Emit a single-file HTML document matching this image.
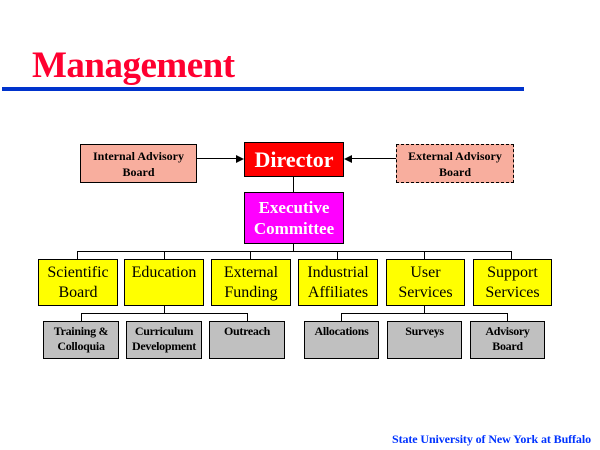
<!DOCTYPE html>
<html><head><style>
body{margin:0;width:600px;height:450px;background:#fff;position:relative;overflow:hidden;font-family:"Liberation Serif",serif}
.b{position:absolute;box-sizing:border-box;border:1px solid #000;text-align:center;font-weight:normal;color:#000;display:flex;align-items:center;justify-content:center;line-height:1.15}
.l{position:absolute;background:#000}
.y{background:#ffff00;font-size:16px;align-items:flex-start;padding-top:3px;line-height:20px}
.g{background:#c0c0c0;font-size:12px;font-weight:bold;align-items:flex-start;padding-top:2px;line-height:15px;letter-spacing:-0.3px}
</style></head><body>
<div style="position:absolute;left:32px;top:44px;font-size:37px;font-weight:bold;color:#ff0030;letter-spacing:-0.5px">Management</div>
<div style="position:absolute;left:2px;top:87px;width:522px;height:4px;background:#0033cc"></div>

<div class="b" style="left:80px;top:144px;width:117px;height:39px;background:#f8ae9e;font-size:12px;line-height:16px;font-weight:bold">Internal Advisory<br>Board</div>
<div class="b" style="left:396px;top:144px;width:118px;height:39px;background:#f8ae9e;font-size:12px;line-height:16px;font-weight:bold;border:1px dashed #000">External Advisory<br>Board</div>
<div class="l" style="left:197px;top:158px;width:40px;height:1px"></div>
<div style="position:absolute;left:236px;top:155px;border-left:8px solid #000;border-top:4px solid transparent;border-bottom:4px solid transparent"></div>
<div class="l" style="left:352px;top:158px;width:44px;height:1px"></div>
<div style="position:absolute;left:344px;top:155px;border-right:8px solid #000;border-top:4px solid transparent;border-bottom:4px solid transparent"></div>

<div class="b" style="left:244px;top:142px;width:100px;height:35px;background:#ff0000;color:#fff;font-size:22px;font-weight:bold">Director</div>
<div class="l" style="left:293px;top:177px;width:1px;height:15px"></div>
<div class="b" style="left:244px;top:192px;width:100px;height:52px;background:#ff00ff;color:#fff;font-size:17px;line-height:21px;font-weight:bold">Executive<br>Committee</div>
<div class="l" style="left:293px;top:244px;width:1px;height:7px"></div>
<div class="l" style="left:77px;top:251px;width:435px;height:1px"></div>
<div class="l" style="left:77px;top:251px;width:1px;height:8px"></div>
<div class="l" style="left:164px;top:251px;width:1px;height:8px"></div>
<div class="l" style="left:250px;top:251px;width:1px;height:8px"></div>
<div class="l" style="left:337px;top:251px;width:1px;height:8px"></div>
<div class="l" style="left:424px;top:251px;width:1px;height:8px"></div>
<div class="l" style="left:511px;top:251px;width:1px;height:8px"></div>

<div class="b y" style="left:38px;top:259px;width:80px;height:47px">Scientific<br>Board</div>
<div class="b y" style="left:124px;top:259px;width:80px;height:47px">Education</div>
<div class="b y" style="left:211px;top:259px;width:80px;height:47px">External<br>Funding</div>
<div class="b y" style="left:298px;top:259px;width:80px;height:47px">Industrial<br>Affiliates</div>
<div class="b y" style="left:386px;top:259px;width:79px;height:47px">User<br>Services</div>
<div class="b y" style="left:473px;top:259px;width:79px;height:47px">Support<br>Services</div>

<div class="l" style="left:164px;top:306px;width:1px;height:7px"></div>
<div class="l" style="left:81px;top:313px;width:167px;height:1px"></div>
<div class="l" style="left:81px;top:313px;width:1px;height:8px"></div>
<div class="l" style="left:247px;top:313px;width:1px;height:8px"></div>
<div class="l" style="left:424px;top:306px;width:1px;height:7px"></div>
<div class="l" style="left:341px;top:313px;width:167px;height:1px"></div>
<div class="l" style="left:341px;top:313px;width:1px;height:8px"></div>
<div class="l" style="left:507px;top:313px;width:1px;height:8px"></div>

<div class="b g" style="left:43px;top:321px;width:76px;height:38px">Training &amp;<br>Colloquia</div>
<div class="b g" style="left:126px;top:321px;width:76px;height:38px">Curriculum<br>Development</div>
<div class="b g" style="left:209px;top:321px;width:76px;height:38px">Outreach</div>
<div class="b g" style="left:304px;top:321px;width:75px;height:38px">Allocations</div>
<div class="b g" style="left:387px;top:321px;width:75px;height:38px">Surveys</div>
<div class="b g" style="left:470px;top:321px;width:75px;height:38px">Advisory<br>Board</div>

<div style="position:absolute;left:392px;top:432px;font-size:12px;font-weight:bold;color:#0033ff;letter-spacing:-0.1px;white-space:nowrap">State University of New York at Buffalo</div>
</body></html>
